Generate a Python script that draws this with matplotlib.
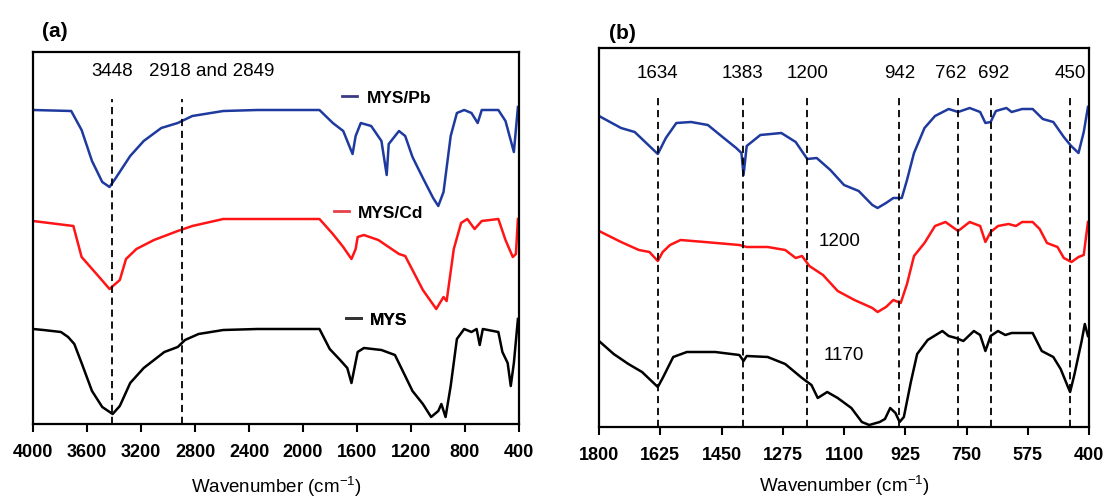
"""
FTIR spectra of MYS, MYS/Cd and MYS/Pb
(a) full range 4000-400 cm-1, (b) fingerprint region 1800-400 cm-1
"""

import matplotlib
matplotlib.use("Agg")
import matplotlib.pyplot as plt
from matplotlib.lines import Line2D

plt.rcParams["font.family"] = ["Liberation Sans", "DejaVu Sans"]
plt.rcParams["mathtext.fontset"] = "custom"
plt.rcParams["mathtext.rm"] = "Liberation Sans"
plt.rcParams["mathtext.it"] = "Liberation Sans"

# ═══════════════════════════════════════════════════════════
# Data (transmittance, arbitrary units, curves offset)
# ═══════════════════════════════════════════════════════════
# panel (a)
wn_a_pb = [4000, 3717, 3640, 3563, 3487, 3433, 3387, 3280, 3180, 3050, 2928, 2820, 2591, 2338,
           1878, 1779, 1702, 1633, 1610, 1572, 1495, 1419, 1380, 1365, 1289, 1243, 1189, 1112,
           1036, 998, 959, 906, 860, 806, 752, 706, 676, 553, 500, 438, 408]
t_a_pb = [314, 313, 294, 263, 242, 237, 246, 268, 283, 296, 301, 308, 313, 314,
          314, 301, 293, 270, 288, 301, 298, 283, 249, 280, 293, 288, 267, 246,
          226, 218, 232, 288, 311, 314, 311, 301, 314, 314, 303, 272, 317]

wn_a_cd = [4000, 3701, 3640, 3510, 3433, 3357, 3311, 3234, 3104, 2928, 2820, 2591, 1878, 1779,
           1702, 1641, 1610, 1595, 1549, 1442, 1289, 1243, 1189, 1112, 1013, 959, 936, 883,
           829, 783, 729, 676, 553, 500, 446, 423, 408]
t_a_cd = [203, 198, 167, 147, 135, 144, 165, 175, 184, 193, 198, 205, 205, 190,
          177, 165, 175, 187, 189, 184, 170, 168, 154, 134, 115, 127, 123, 175,
          201, 205, 195, 203, 205, 184, 167, 170, 205]

wn_a_mys = [4000, 3923, 3793, 3740, 3694, 3640, 3563, 3487, 3410, 3357, 3280, 3180, 3027, 2928,
            2874, 2774, 2591, 2338, 1878, 1802, 1725, 1672, 1641, 1595, 1549, 1419, 1319, 1243,
            1189, 1112, 1051, 998, 975, 944, 906, 860, 806, 752, 714, 691, 668, 553, 523, 484,
            461, 438, 408]
t_a_mys = [95, 94, 92, 87, 80, 61, 33, 17, 10, 18, 41, 56, 72, 77,
           84, 90, 94, 95, 95, 75, 64, 56, 41, 72, 76, 74, 69, 48,
           33, 20, 7, 13, 20, 7, 38, 85, 95, 92, 95, 79, 95, 92, 72, 61,
           38, 61, 105]

# panel (b)
wn_b_pb = [1800, 1737, 1698, 1668, 1632, 1609, 1579, 1537, 1489, 1447, 1408, 1393, 1387, 1378,
           1339, 1279, 1238, 1205, 1178, 1139, 1100, 1058, 1019, 1004, 980, 959, 935, 920,
           900, 870, 840, 801, 774, 741, 711, 696, 681, 666, 636, 621, 591, 561, 532, 502,
           472, 451, 430, 415, 403]
t_b_pb = [311, 299, 295, 285, 273, 289, 304, 305, 302, 290, 279, 274, 252, 281,
          292, 294, 285, 268, 269, 257, 242, 236, 222, 219, 224, 229, 229, 247,
          274, 299, 311, 318, 315, 319, 315, 304, 305, 316, 319, 315, 318, 318, 308, 305,
          290, 281, 274, 295, 320]

wn_b_cd = [1800, 1737, 1686, 1656, 1632, 1618, 1597, 1567, 1498, 1399, 1378, 1318, 1268, 1238,
           1220, 1199, 1160, 1118, 1070, 1019, 1004, 980, 959, 938, 920, 900, 870, 840,
           810, 774, 741, 711, 696, 681, 660, 630, 609, 591, 561, 541, 520, 490, 472, 450,
           430, 415, 403]
t_b_cd = [196, 185, 177, 175, 166, 175, 182, 187, 185, 182, 180, 180, 177, 169,
          171, 161, 152, 136, 127, 119, 115, 120, 127, 124, 143, 171, 184, 201,
          205, 196, 205, 201, 185, 195, 201, 203, 201, 205, 205, 198, 184, 180, 169, 165,
          170, 172, 205]

wn_b_mys = [1800, 1758, 1716, 1677, 1647, 1632, 1618, 1588, 1549, 1468, 1399, 1387, 1378, 1318,
            1268, 1220, 1193, 1175, 1148, 1118, 1079, 1049, 1028, 998, 983, 968, 953, 941,
            929, 909, 891, 861, 819, 801, 780, 759, 729, 711, 696, 681, 660, 639, 621, 561,
            535, 502, 481, 460, 454, 442, 421, 412, 403]
t_b_mys = [86, 73, 63, 55, 45, 40, 49, 70, 75, 75, 72, 66, 71, 70,
           63, 49, 42, 29, 35, 29, 19, 5, 2, 5, 8, 19, 14, 5,
           10, 45, 73, 87, 96, 91, 89, 86, 96, 92, 76, 91, 96, 92, 94, 94,
           76, 70, 58, 40, 35, 52, 86, 103, 91]

# marked bands
lines_a = [3415, 2895]
labels_a = ["3448", "2918 and 2849"]
label_x_a = [3415, 2676]

lines_b = [1632, 1390, 1205, 942, 774, 681, 454]
labels_b = ["1634", "1383", "1200", "942", "762", "692", "450"]
label_x_b = [1632, 1390, 1205, 942, 795, 672, 454]

ticks_a = [4000, 3600, 3200, 2800, 2400, 2000, 1600, 1200, 800, 400]
ticks_b = [1800, 1625, 1450, 1275, 1100, 925, 750, 575, 400]

samples = ["MYS/Pb", "MYS/Cd", "MYS"]
colors = ["#1f3a9e", "#ff1515", "#000000"]
key_colors = ["#3b3b85", "#e5414a", "#333333"]

# ═══════════════════════════════════════════════════════════
# Figure
# ═══════════════════════════════════════════════════════════
fig = plt.figure(figsize=(11.07, 5.02), dpi=100)
ax_a = fig.add_axes([33 / 1107, 1 - 425 / 502, 486 / 1107, 372 / 502])
ax_b = fig.add_axes([599 / 1107, 1 - 428 / 502, 490 / 1107, 379 / 502])

XLABEL = "Wavenumber (cm$^{-1}$)"


def style_axis(ax, xlim, ylim, ticks, pad, labelpad):
    ax.set_xlim(*xlim)
    ax.set_ylim(*ylim)
    ax.set_xticks(ticks)
    ax.set_xticklabels([str(t) for t in ticks], fontsize=13, fontweight="bold")
    ax.set_yticks([])
    ax.tick_params(axis="x", direction="out", length=6, width=1.5, pad=pad)
    for sp in ax.spines.values():
        sp.set_linewidth(1.6)
    ax.set_xlabel(XLABEL, fontsize=13.5, labelpad=labelpad)


# ---- panel (a)
ax_a.plot(wn_a_pb, t_a_pb, color=colors[0], lw=1.8)
ax_a.plot(wn_a_cd, t_a_cd, color=colors[1], lw=1.8)
ax_a.plot(wn_a_mys, t_a_mys, color=colors[2], lw=1.8)
ax_a.vlines(lines_a, 0, 325, colors="black", lw=1.3, linestyles=(0, (4, 2.6)))
for x, lab in zip(label_x_a, labels_a):
    ax_a.text(x, 353, lab, ha="center", va="center", fontsize=13.5)
style_axis(ax_a, (4000, 400), (0, 372), ticks_a, 8, 10)

# sample keys, placed beside each curve like the original
key_pos = [(0.636, 0.879), (0.619, 0.569), (0.644, 0.281)]
for name, kc, (kx, ky) in zip(samples, key_colors, key_pos):
    leg = ax_a.legend([Line2D([0], [0], color=kc, lw=2)], [name],
                      loc="center left", bbox_to_anchor=(kx, ky),
                      frameon=False, borderpad=0, borderaxespad=0,
                      handlelength=0.85, handletextpad=0.55,
                      prop={"weight": "bold", "size": 12.5})
    ax_a.add_artist(leg)

# ---- panel (b)
ax_b.plot(wn_b_pb, t_b_pb, color=colors[0], lw=1.8)
ax_b.plot(wn_b_cd, t_b_cd, color=colors[1], lw=1.8)
ax_b.plot(wn_b_mys, t_b_mys, color=colors[2], lw=1.8)
ax_b.vlines(lines_b, 0, 330, colors="black", lw=1.3, linestyles=(0, (4, 2.6)))
for x, lab in zip(label_x_b, labels_b):
    ax_b.text(x, 354, lab, ha="center", va="center", fontsize=13.5)
ax_b.text(1114, 187, "1200", ha="center", va="center", fontsize=13.5)
ax_b.text(1100, 72, "1170", ha="center", va="center", fontsize=13.5)
style_axis(ax_b, (1800, 400), (0, 379), ticks_b, 8, 7)

# panel letters
fig.text(55 / 1107, 1 - 32 / 502, "(a)", ha="center", va="center",
         fontsize=15, fontweight="bold")
fig.text(622 / 1107, 1 - 34 / 502, "(b)", ha="center", va="center",
         fontsize=15, fontweight="bold")

fig.savefig("out.png", dpi=100)
